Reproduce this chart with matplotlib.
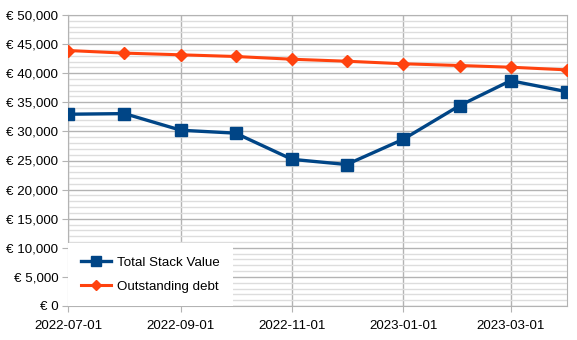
import matplotlib.pyplot as plt
import matplotlib.dates as mdates
from matplotlib.ticker import MultipleLocator, FuncFormatter
import pandas as pd

plt.rcParams['font.family'] = ['Liberation Sans', 'DejaVu Sans']

# monthly snapshots
dates = pd.date_range("2022-07-01", "2023-04-01", freq="MS")
stack_value = [32950, 33060, 30200, 29700, 25200, 24310, 28630, 34430, 38710, 36820]
debt = [43900, 43450, 43160, 42870, 42400, 42060, 41620, 41320, 41030, 40570]

fig = plt.figure(figsize=(5.77, 3.4), dpi=100)
ax = fig.add_axes([68 / 577, 1 - 306 / 340, (567 - 68) / 577, (306 - 15) / 340])

ax.plot(dates, stack_value, color='#004586', lw=2.4, marker='s', ms=8.5,
        label="Total Stack Value", zorder=4)
ax.plot(dates, debt, color='#ff420e', lw=2.2, marker='D', ms=6,
        label="Outstanding debt", zorder=4)

ax.set_xlim(dates[0], dates[-1])
ax.set_ylim(0, 50000)

ax.yaxis.set_major_locator(MultipleLocator(5000))
ax.yaxis.set_minor_locator(MultipleLocator(1000))
ax.yaxis.set_major_formatter(FuncFormatter(lambda v, p: "€ {:,.0f}".format(v)))
ax.xaxis.set_major_locator(mdates.MonthLocator(bymonth=[1, 3, 5, 7, 9, 11]))
ax.xaxis.set_major_formatter(mdates.DateFormatter("%Y-%m-%d"))

ax.grid(which='major', color='#b3b3b3', lw=1)
ax.grid(which='minor', axis='y', color='#dddddd', lw=1)
ax.set_axisbelow(True)

for side in ['left', 'bottom', 'right', 'top']:
    ax.spines[side].set_color('#b3b3b3')
ax.tick_params(which='major', length=4, color='#b3b3b3', labelsize=9.6, pad=3)
ax.tick_params(which='minor', length=0)
ax.tick_params(axis='x', pad=6)

leg = ax.legend(loc='lower left', bbox_to_anchor=(0, 0), borderaxespad=0,
                frameon=True, fancybox=False, fontsize=9.6, handlelength=2.2,
                labelspacing=0.85, borderpad=1.0, handletextpad=0.5,
                markerscale=0.85)
leg.get_frame().set_facecolor('white')
leg.get_frame().set_edgecolor('none')
leg.get_frame().set_alpha(1)

fig.savefig("out.png")
